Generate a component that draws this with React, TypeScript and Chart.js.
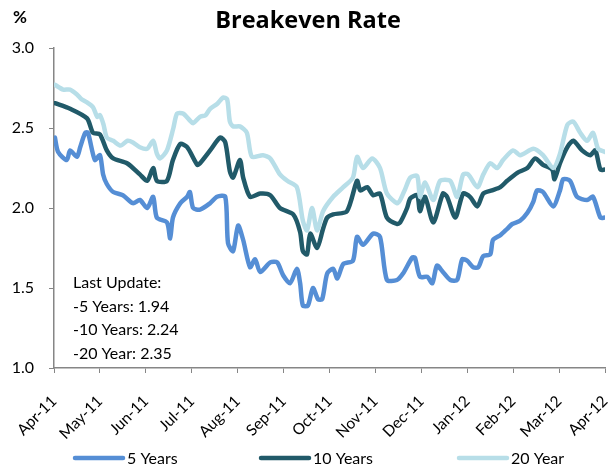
import React, { useEffect, useRef } from "react";
import { Chart, registerables } from "chart.js";

Chart.register(...registerables);

// Month tick labels (x = months since 1-Apr-2011)
const monthLabels = [
  "Apr-11", "May-11", "Jun-11", "Jul-11", "Aug-11", "Sep-11", "Oct-11",
  "Nov-11", "Dec-11", "Jan-12", "Feb-12", "Mar-12", "Apr-12",
];

// 5 Years breakeven: time (months since Apr-11) and rate (%)
const t5 = [0.02, 0.09, 0.28, 0.35, 0.5, 0.57, 0.68, 0.74, 0.89, 1.0, 1.07, 1.15, 1.29, 1.5, 1.72, 1.87, 2.03, 2.16, 2.24, 2.46, 2.53, 2.59, 2.75, 2.9, 2.96, 3.03, 3.18, 3.4, 3.55, 3.73, 3.79, 3.9, 4.01, 4.12, 4.27, 4.38, 4.49, 4.71, 4.86, 4.99, 5.14, 5.29, 5.36, 5.42, 5.53, 5.64, 5.75, 5.84, 5.95, 6.08, 6.17, 6.3, 6.51, 6.6, 6.73, 6.95, 7.1, 7.25, 7.47, 7.6, 7.8, 7.86, 7.97, 8.13, 8.24, 8.34, 8.47, 8.63, 8.78, 8.89, 9.0, 9.13, 9.24, 9.35, 9.5, 9.56, 9.72, 9.87, 9.98, 10.15, 10.31, 10.44, 10.52, 10.65, 10.87, 11.02, 11.09, 11.24, 11.39, 11.61, 11.74, 11.9, 12.0];
const v5 = [2.44, 2.35, 2.3, 2.36, 2.32, 2.38, 2.47, 2.47, 2.3, 2.33, 2.21, 2.15, 2.1, 2.08, 2.03, 2.05, 2.0, 2.07, 1.94, 1.91, 1.81, 1.94, 2.03, 2.07, 2.1, 2.0, 1.99, 2.03, 2.07, 2.07, 1.78, 1.73, 1.89, 1.8, 1.63, 1.68, 1.6, 1.66, 1.66, 1.58, 1.53, 1.62, 1.53, 1.39, 1.39, 1.5, 1.43, 1.43, 1.59, 1.62, 1.56, 1.65, 1.67, 1.82, 1.77, 1.84, 1.82, 1.55, 1.55, 1.59, 1.69, 1.69, 1.57, 1.57, 1.53, 1.64, 1.6, 1.55, 1.55, 1.68, 1.67, 1.63, 1.63, 1.7, 1.71, 1.8, 1.83, 1.87, 1.9, 1.92, 1.97, 2.04, 2.11, 2.1, 2.01, 2.11, 2.18, 2.17, 2.07, 2.05, 2.07, 1.94, 1.94];

// 10 Years breakeven
const t10 = [0.02, 0.35, 0.72, 0.85, 1.0, 1.15, 1.29, 1.59, 1.87, 2.03, 2.16, 2.24, 2.46, 2.59, 2.75, 2.9, 3.12, 3.18, 3.4, 3.62, 3.73, 3.83, 3.9, 4.05, 4.12, 4.27, 4.49, 4.71, 4.92, 5.21, 5.36, 5.42, 5.51, 5.58, 5.73, 5.86, 5.95, 6.08, 6.38, 6.6, 6.67, 6.82, 6.95, 7.1, 7.25, 7.47, 7.54, 7.69, 7.76, 7.91, 7.97, 8.08, 8.26, 8.47, 8.56, 8.74, 8.91, 9.06, 9.22, 9.35, 9.54, 9.72, 9.87, 10.09, 10.31, 10.48, 10.65, 10.85, 10.9, 11.02, 11.18, 11.31, 11.5, 11.68, 11.79, 11.9, 12.0];
const v10 = [2.655, 2.62, 2.56, 2.47, 2.46, 2.36, 2.31, 2.28, 2.21, 2.17, 2.25, 2.17, 2.17, 2.3, 2.4, 2.38, 2.27, 2.28, 2.36, 2.44, 2.41, 2.23, 2.19, 2.3, 2.19, 2.07, 2.09, 2.08, 2.0, 1.96, 1.85, 1.73, 1.71, 1.84, 1.75, 1.87, 1.94, 1.96, 1.98, 2.17, 2.11, 2.13, 2.08, 2.09, 1.94, 1.9, 1.91, 2.0, 2.06, 2.08, 1.98, 2.07, 1.91, 2.09, 2.07, 1.94, 2.09, 2.07, 2.01, 2.09, 2.11, 2.13, 2.17, 2.22, 2.25, 2.31, 2.27, 2.24, 2.18, 2.28, 2.38, 2.42, 2.36, 2.33, 2.36, 2.24, 2.24];

// 20 Year breakeven
const t20 = [0.02, 0.2, 0.35, 0.5, 0.6, 0.72, 0.85, 0.94, 1.0, 1.08, 1.15, 1.29, 1.45, 1.6, 1.72, 1.87, 2.03, 2.16, 2.24, 2.31, 2.46, 2.6, 2.68, 2.81, 2.95, 3.03, 3.18, 3.3, 3.4, 3.55, 3.68, 3.77, 3.83, 3.9, 4.05, 4.2, 4.31, 4.55, 4.71, 4.92, 5.08, 5.29, 5.42, 5.51, 5.62, 5.73, 5.86, 6.08, 6.3, 6.51, 6.6, 6.73, 6.93, 7.1, 7.25, 7.47, 7.54, 7.65, 7.76, 7.91, 7.97, 8.08, 8.26, 8.41, 8.63, 8.78, 8.91, 9.02, 9.22, 9.35, 9.5, 9.65, 9.78, 10.0, 10.15, 10.44, 10.65, 10.87, 11.02, 11.18, 11.31, 11.46, 11.61, 11.74, 11.85, 12.0];
const v20 = [2.77, 2.74, 2.74, 2.71, 2.68, 2.66, 2.63, 2.57, 2.58, 2.52, 2.44, 2.42, 2.39, 2.42, 2.41, 2.38, 2.37, 2.42, 2.34, 2.31, 2.36, 2.5, 2.59, 2.59, 2.55, 2.53, 2.57, 2.58, 2.62, 2.65, 2.69, 2.68, 2.54, 2.51, 2.51, 2.47, 2.32, 2.33, 2.31, 2.21, 2.17, 2.13, 1.92, 1.86, 2.0, 1.86, 1.98, 2.07, 2.13, 2.19, 2.32, 2.25, 2.31, 2.25, 2.09, 2.03, 2.05, 2.12, 2.19, 2.2, 2.07, 2.16, 2.05, 2.17, 2.17, 2.07, 2.21, 2.21, 2.13, 2.21, 2.28, 2.25, 2.3, 2.36, 2.33, 2.37, 2.33, 2.25, 2.34, 2.52, 2.54, 2.47, 2.42, 2.47, 2.37, 2.35];

const seriesNames = ["5 Years", "10 Years", "20 Year"];
const seriesColors = ["#558ED5", "#215A69", "#B7DEE8"];
const noteLines = ["Last Update:", "-5 Years: 1.94", "-10 Years: 2.24", "-20 Year: 2.35"];

const FONT = "Lato, 'Open Sans', sans-serif";

const pts = (t: number[], v: number[]) => t.map((x, i) => ({ x, y: v[i] }));

const decorPlugin = {
  id: "decor",
  afterDraw(chart: any) {
    const ctx = chart.ctx as CanvasRenderingContext2D;
    ctx.save();
    ctx.fillStyle = "#000";
    ctx.textBaseline = "alphabetic";
    // Title
    ctx.font = `bold 23.5px 'Open Sans', sans-serif`;
    ctx.textAlign = "center";
    ctx.fillText("Breakeven Rate", 308, 28);
    // % unit
    ctx.font = `bold 17px ${FONT}`;
    ctx.textAlign = "left";
    ctx.fillText("%", 13, 23);
    // Note
    ctx.font = `16px ${FONT}`;
    noteLines.forEach((s, i) => ctx.fillText(s, 73, 288 + i * 23.5));
    // Legend
    const lx = [73, 259, 457];
    ctx.font = `16px ${FONT}`;
    ctx.lineCap = "round";
    seriesNames.forEach((name, i) => {
      ctx.strokeStyle = seriesColors[i];
      ctx.lineWidth = 4.5;
      ctx.beginPath();
      ctx.moveTo(lx[i] + 2, 458);
      ctx.lineTo(lx[i] + 50, 458);
      ctx.stroke();
      ctx.fillStyle = "#000";
      ctx.fillText(name, lx[i] + 54, 464);
    });
    ctx.restore();
  },
};

export default function App() {
  const ref = useRef<HTMLCanvasElement | null>(null);
  useEffect(() => {
    if (!ref.current) return;
    const mk = (i: number, data: any[], order: number) => ({
      label: seriesNames[i],
      data,
      borderColor: seriesColors[i],
      backgroundColor: seriesColors[i],
      borderWidth: 4.5,
      pointRadius: 0,
      tension: 0.25,
      borderJoinStyle: "round" as const,
      borderCapStyle: "round" as const,
      order,
    });
    const chart = new Chart(ref.current, {
      type: "line",
      data: {
        datasets: [
          mk(0, pts(t5, v5), 2),
          mk(1, pts(t10, v10), 1),
          mk(2, pts(t20, v20), 0),
        ],
      },
      options: {
        animation: false,
        responsive: false,
        layout: { padding: { top: 48, right: 7, bottom: 0, left: 0 } },
        plugins: { legend: { display: false }, title: { display: false }, tooltip: { enabled: false } },
        scales: {
          x: {
            type: "linear",
            min: 0,
            max: 12,
            grid: { display: true, drawOnChartArea: false, drawTicks: true, tickLength: 5, color: "#868686" },
            border: { display: true, color: "#868686", width: 1.5 },
            ticks: {
              stepSize: 1,
              autoSkip: false,
              maxRotation: 45,
              minRotation: 45,
              padding: 19,
              color: "#000",
              font: { family: FONT, size: 15.5 },
              callback: (v: any) => monthLabels[Math.round(Number(v))] ?? "",
            },
            afterFit: (s: any) => {
              s.height = 465 - 368;
              s.paddingLeft = 0;
              s.paddingRight = 0;
            },
          },
          y: {
            min: 1,
            max: 3,
            grid: { display: true, drawOnChartArea: false, drawTicks: true, tickLength: 5, color: "#868686" },
            border: { display: true, color: "#868686", width: 1.5 },
            ticks: {
              stepSize: 0.5,
              padding: 15,
              color: "#000",
              font: { family: FONT, size: 16 },
              callback: (v: any) => Number(v).toFixed(1),
            },
            afterFit: (s: any) => {
              s.width = 54;
              s.paddingTop = 0;
              s.paddingBottom = 0;
            },
          },
        },
      },
      plugins: [decorPlugin],
    });
    return () => chart.destroy();
  }, []);
  return (
    <div style={{ position: "absolute", left: 0, top: 0, width: 612, height: 465, background: "#fff" }}>
      <canvas ref={ref} width={612} height={465} />
    </div>
  );
}
